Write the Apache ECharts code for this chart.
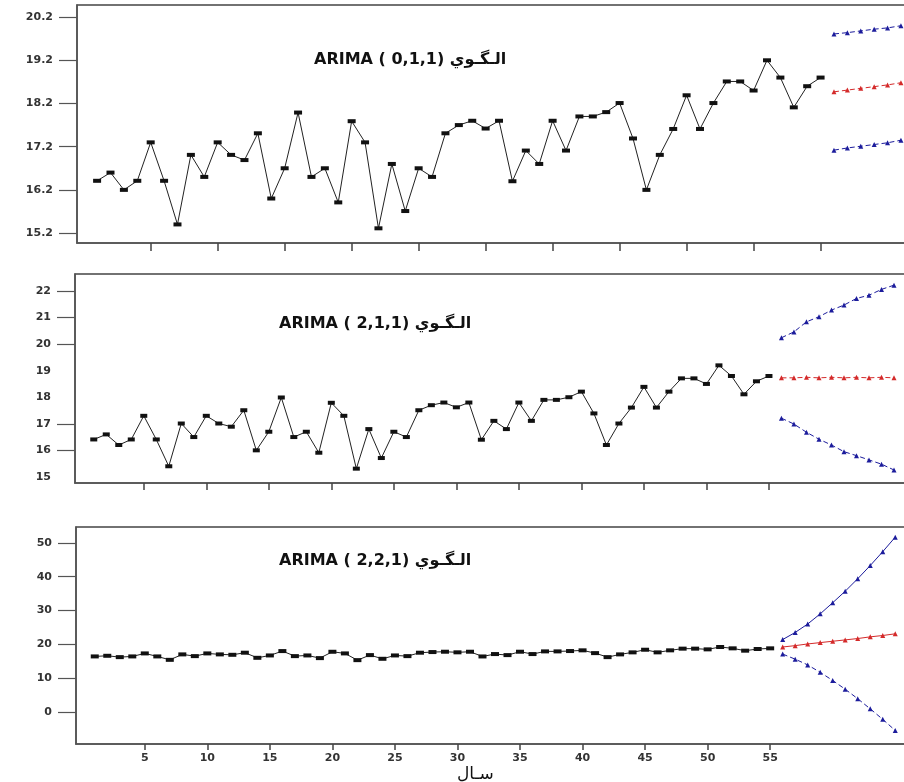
<!DOCTYPE html>
<html>
<head>
<meta charset="utf-8">
<style>
    html, body { margin: 0; padding: 0; background: #fff; }
    #chart { width: 904px; height: 782px; }
</style>
<script src="https://cdn.jsdelivr.net/npm/echarts@6/dist/echarts.min.js"></script>
</head>
<body>
<div id="chart"></div>
<script>
// observed series, periods 1..55
const observed = [
    16.41, 16.60, 16.20, 16.41, 17.30, 16.41, 15.40, 17.01, 16.50, 17.30,
    17.01, 16.89, 17.51, 16.00, 16.70, 17.99, 16.50, 16.70, 15.91, 17.79,
    17.30, 15.31, 16.80, 15.71, 16.70, 16.50, 17.51, 17.70, 17.80, 17.62,
    17.80, 16.40, 17.11, 16.80, 17.80, 17.11, 17.90, 17.90, 18.00, 18.21,
    17.39, 16.20, 17.01, 17.61, 18.39, 17.61, 18.21, 18.71, 18.71, 18.50,
    19.20, 18.80, 18.11, 18.60, 18.80
];
const forecastPeriods = [56, 57, 58, 59, 60, 61, 62, 63, 64, 65];

// ARIMA (0,1,1) - only the part visible inside the picture
const fc011 = [18.47, 18.51, 18.55, 18.59, 18.63, 18.68];
const up011 = [19.81, 19.84, 19.88, 19.92, 19.95, 20.00];
const lo011 = [17.12, 17.17, 17.21, 17.25, 17.29, 17.35];

// ARIMA (2,1,1)
const fc211 = [18.73, 18.73, 18.75, 18.73, 18.75, 18.73, 18.75, 18.73, 18.75, 18.73];
const up211 = [20.24, 20.46, 20.84, 21.03, 21.28, 21.47, 21.72, 21.84, 22.06, 22.22];
const lo211 = [17.21, 16.99, 16.68, 16.42, 16.20, 15.95, 15.80, 15.64, 15.48, 15.26];

// ARIMA (2,2,1)
const fc221 = [19.2, 19.6, 20.1, 20.5, 20.9, 21.3, 21.7, 22.2, 22.6, 23.1];
const up221 = [21.4, 23.5, 26.0, 29.0, 32.3, 35.7, 39.4, 43.3, 47.4, 51.7];
const lo221 = [17.1, 15.6, 13.9, 11.7, 9.3, 6.7, 3.9, 0.9, -2.2, -5.5];

// tick labels
const xTicks = [5, 10, 15, 20, 25, 30, 35, 40, 45, 50, 55];
const yTicks1 = [15.2, 16.2, 17.2, 18.2, 19.2, 20.2];
const yTicks2 = [15, 16, 17, 18, 19, 20, 21, 22];
const yTickMarks2 = [16, 17, 20, 21, 22];
const yTicks3 = [0, 10, 20, 30, 40, 50];

const titles = ["ARIMA ( 0,1,1) الـگـوي", "ARIMA ( 2,1,1) الـگـوي", "ARIMA ( 2,2,1) الـگـوي"];
const xName = "سـال";

const FONT = "DejaVu Sans, Liberation Sans, sans-serif";
const RED = "#d42a2a";
const BLUE = "#1c1c9c";

function pairs(xs, ys) {
    return ys.map((v, i) => [xs[i], v]);
}
const obsData = pairs(observed.map((v, i) => i + 1), observed);

function obsSeries(idx, size) {
    return {
        type: "line",
        xAxisIndex: idx,
        yAxisIndex: idx,
        data: obsData,
        symbol: "rect",
        symbolSize: size,
        lineStyle: { color: "#222", width: 1 },
        itemStyle: { color: "#111" },
        animation: false,
        z: 3
    };
}
function fcSeries(idx, data, color, dashed) {
    return {
        type: "line",
        xAxisIndex: idx,
        yAxisIndex: idx,
        data: pairs(forecastPeriods, data),
        symbol: "triangle",
        symbolSize: 5,
        lineStyle: { color: color, width: 1, type: dashed ? [5, 3] : "solid" },
        itemStyle: { color: color },
        animation: false,
        z: 2
    };
}

function xAxis(idx, max, showLabels, tickLen) {
    return {
        type: "value",
        gridIndex: idx,
        min: -0.5,
        max: max,
        axisLine: { show: true, onZero: false, lineStyle: { color: "#555", width: 1.5 } },
        axisTick: {
            show: true,
            length: tickLen,
            customValues: xTicks,
            lineStyle: { color: "#444", width: 1.5 }
        },
        axisLabel: {
            show: showLabels,
            customValues: xTicks,
            color: "#333",
            fontFamily: FONT,
            fontSize: 11,
            fontWeight: "bold",
            margin: 9
        },
        splitLine: { show: false }
    };
}
function yAxis(idx, min, max, labels, marks, fmt) {
    return {
        type: "value",
        gridIndex: idx,
        min: min,
        max: max,
        axisLine: { show: true, onZero: false, lineStyle: { color: "#555", width: 1.5 } },
        axisTick: {
            show: true,
            length: 18,
            customValues: marks,
            lineStyle: { color: "#555", width: 1.2 }
        },
        axisLabel: {
            customValues: labels,
            color: "#333",
            fontFamily: FONT,
            fontSize: 11,
            fontWeight: "bold",
            margin: 24,
            formatter: fmt
        },
        splitLine: { show: false }
    };
}

const chart = echarts.init(document.getElementById("chart"), null, { renderer: "canvas" });

const gridBase = {
    show: true,
    borderColor: "#444",
    borderWidth: 1.5,
    backgroundColor: "#fff",
    outerBoundsMode: "none",
    containLabel: false
};
const titleStyle = { fontFamily: FONT, fontSize: 16, fontWeight: "bold", color: "#111" };

chart.setOption({
    backgroundColor: "#fff",
    title: [
        { text: titles[0], left: 309, top: 47, textStyle: titleStyle },
        { text: titles[1], left: 274, top: 311, textStyle: titleStyle },
        { text: titles[2], left: 274, top: 548, textStyle: titleStyle },
        { text: xName, left: 452, top: 761,
          textStyle: { fontFamily: FONT, fontSize: 17, fontWeight: "normal", color: "#111" } }
    ],
    // frames run past the right edge of the picture, as in the source figure
    grid: [
        Object.assign({ left: 77, top: 5, height: 238, width: 832 }, gridBase),
        Object.assign({ left: 75, top: 274, height: 209, width: 834 }, gridBase),
        Object.assign({ left: 76, top: 527, height: 217, width: 833 }, gridBase)
    ],
    xAxis: [
        xAxis(0, 61.6, false, 8),
        xAxis(1, 66.2, false, 7),
        xAxis(2, 66.1, true, 6)
    ],
    yAxis: [
        yAxis(0, 14.97, 20.48, yTicks1, yTicks1, v => v.toFixed(1)),
        yAxis(1, 14.77, 22.64, yTicks2, yTickMarks2, v => String(v)),
        yAxis(2, -9.5, 54.7, yTicks3, yTicks3, v => String(v))
    ],
    series: [
        obsSeries(0, [8, 4]),
        fcSeries(0, fc011, RED, true),
        fcSeries(0, up011, BLUE, true),
        fcSeries(0, lo011, BLUE, true),

        obsSeries(1, [7, 4]),
        fcSeries(1, fc211, RED, true),
        fcSeries(1, up211, BLUE, true),
        fcSeries(1, lo211, BLUE, true),

        obsSeries(2, [8, 4]),
        fcSeries(2, fc221, RED, false),
        fcSeries(2, up221, BLUE, false),
        fcSeries(2, lo221, BLUE, true)
    ]
});
</script>
</body>
</html>
